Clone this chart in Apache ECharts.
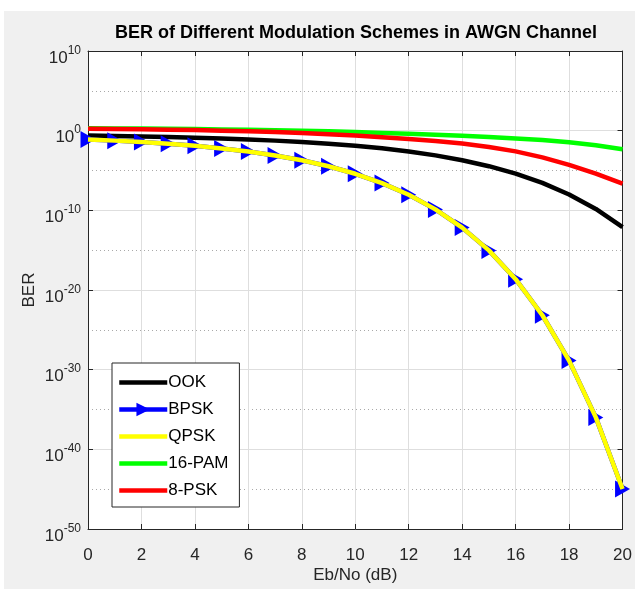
<!DOCTYPE html>
<html>
<head>
<meta charset="utf-8">
<script src="https://cdn.jsdelivr.net/npm/echarts@6/dist/echarts.min.js"></script>
<style>
  html, body { margin: 0; padding: 0; background: #fff; }
  #chart { position: absolute; left: 4px; top: 11px; width: 631px; height: 578px; }
</style>
</head>
<body>
<div id="chart"></div>
<script>
// Eb/No in dB
const ebNo = [0, 1, 2, 3, 4, 5, 6, 7, 8, 9, 10, 11, 12, 13, 14, 15, 16, 17, 18, 19, 20];

// log10(BER)
const ookLogBer = [-0.62, -0.67, -0.73, -0.80, -0.88, -0.98, -1.10, -1.25, -1.42, -1.64, -1.90,
                   -2.22, -2.61, -3.10, -3.71, -4.46, -5.39, -6.56, -8.01, -9.83, -12.1];
const bpskLogBer = [-1.10, -1.25, -1.43, -1.64, -1.90, -2.23, -2.62, -3.11, -3.72, -4.47, -5.41,
                    -6.58, -8.05, -9.88, -12.17, -15.03, -18.64, -23.17, -28.86, -35.99, -44.98];
const qpskLogBer = [-1.10, -1.25, -1.43, -1.64, -1.90, -2.23, -2.62, -3.11, -3.72, -4.47, -5.41,
                    -6.58, -8.05, -9.88, -12.17, -15.03, -18.64, -23.17, -28.86, -35.99, -44.98];
const pam16LogBer = [0.30, 0.28, 0.26, 0.23, 0.20, 0.16, 0.12, 0.06, 0.00, -0.08, -0.17,
                     -0.28, -0.40, -0.52, -0.65, -0.80, -0.97, -1.18, -1.45, -1.82, -2.33];
const psk8LogBer = [0.24, 0.21, 0.17, 0.12, 0.07, 0.00, -0.08, -0.18, -0.30, -0.45, -0.62,
                    -0.82, -1.05, -1.30, -1.60, -2.05, -2.60, -3.35, -4.30, -5.40, -6.66];

const seriesNames = ['OOK', 'BPSK', 'QPSK', '16-PAM', '8-PSK'];
const yTicks = [-50, -40, -30, -20, -10, 0, 10];

const FONT = '"Liberation Sans", Arial, Helvetica, sans-serif';
const AXIS_COLOR = '#262626';

const chart = echarts.init(document.getElementById('chart'));

function curve(name, values, color, extra) {
  return Object.assign({
    name: name,
    type: 'line',
    data: ebNo.map((x, i) => [x, values[i]]),
    symbol: 'none',
    clip: false,
    color: color,
    lineStyle: { color: color, width: 4.5 },
    itemStyle: { color: color },
    emphasis: { disabled: true },
    animation: false
  }, extra || {});
}

const xAxisBase = {
  type: 'value',
  min: 0,
  max: 20,
  interval: 2,
  axisLine: { show: true, onZero: false, lineStyle: { color: AXIS_COLOR, width: 1 } },
  axisTick: { show: true, inside: true, length: 5, lineStyle: { color: AXIS_COLOR } }
};
const yAxisBase = {
  type: 'value',
  min: -50,
  max: 10,
  interval: 10,
  axisLine: { show: true, onZero: false, lineStyle: { color: AXIS_COLOR, width: 1 } },
  axisTick: { show: true, inside: true, length: 5, lineStyle: { color: AXIS_COLOR } }
};

// legend: plain lines except BPSK, which keeps its triangle marker
const legendData = seriesNames.map(n => n === 'BPSK' ? { name: n } : { name: n, itemStyle: { opacity: 0 } });

const option = {
  backgroundColor: '#f0f0f0',
  animation: false,
  title: {
    text: 'BER of Different Modulation Schemes in AWGN Channel',
    left: 352,
    textAlign: 'center',
    top: 13,
    padding: 0,
    textStyle: { fontFamily: FONT, fontSize: 18, fontWeight: 'bold', color: '#000' }
  },
  grid: {
    left: 84, right: 10, top: 40, bottom: 58,
    show: true, backgroundColor: '#fff', borderWidth: 0
  },
  legend: {
    data: legendData,
    orient: 'vertical',
    left: 108,
    top: 352,
    itemWidth: 48,
    itemHeight: 17,
    itemGap: 10,
    padding: [11, 11, 8, 5],
    backgroundColor: '#fff',
    borderColor: AXIS_COLOR,
    borderWidth: 1,
    borderRadius: 0,
    selectedMode: false,
    lineStyle: { width: 4.5 },
    textStyle: { fontFamily: FONT, fontSize: 17, color: '#000', padding: [0, 0, 0, -4] }
  },
  xAxis: [
    Object.assign({}, xAxisBase, {
      position: 'bottom',
      name: 'Eb/No (dB)',
      nameLocation: 'middle',
      nameGap: 38,
      nameMoveOverlap: false,
      nameTextStyle: { fontFamily: FONT, fontSize: 17, color: AXIS_COLOR },
      axisLabel: { fontFamily: FONT, fontSize: 17, color: AXIS_COLOR, margin: 18 },
      splitLine: { show: true, lineStyle: { color: '#dedede', width: 1 } }
    }),
    Object.assign({}, xAxisBase, {
      position: 'top',
      axisLabel: { show: false },
      splitLine: { show: false }
    })
  ],
  yAxis: [
    Object.assign({}, yAxisBase, {
      position: 'left',
      name: 'BER',
      nameLocation: 'middle',
      nameGap: 50,
      nameMoveOverlap: false,
      nameTextStyle: { fontFamily: FONT, fontSize: 17, color: AXIS_COLOR },
      axisLabel: {
        margin: 7,
        padding: [6, 0, 0, 0],
        customValues: yTicks,
        formatter: v => '{b|10}{s|' + v + '}',
        rich: {
          b: { fontFamily: FONT, fontSize: 17, color: AXIS_COLOR, lineHeight: 25, verticalAlign: 'bottom' },
          s: { fontFamily: FONT, fontSize: 12, color: AXIS_COLOR, lineHeight: 19, verticalAlign: 'top', padding: [3, 0, 0, 0] }
        }
      },
      splitLine: { show: true, lineStyle: { color: '#dedede', width: 1 } },
      minorTick: { show: false, splitNumber: 2 },
      minorSplitLine: { show: true, lineStyle: { color: '#a9a9a9', width: 1, type: [1, 3] } }
    }),
    Object.assign({}, yAxisBase, {
      position: 'right',
      axisLabel: { show: false },
      splitLine: { show: false }
    })
  ],
  series: [
    curve('OOK', ookLogBer, '#000000'),
    curve('BPSK', bpskLogBer, '#0000ff', {
      symbol: 'triangle',
      symbolSize: [17, 15],
      symbolRotate: -90,
      showAllSymbol: true
    }),
    curve('QPSK', qpskLogBer, '#ffff00', { z: 5 }),
    curve('16-PAM', pam16LogBer, '#00ff00', { z: 5 }),
    curve('8-PSK', psk8LogBer, '#ff0000', { z: 5 })
  ]
};

chart.setOption(option);
</script>
</body>
</html>
